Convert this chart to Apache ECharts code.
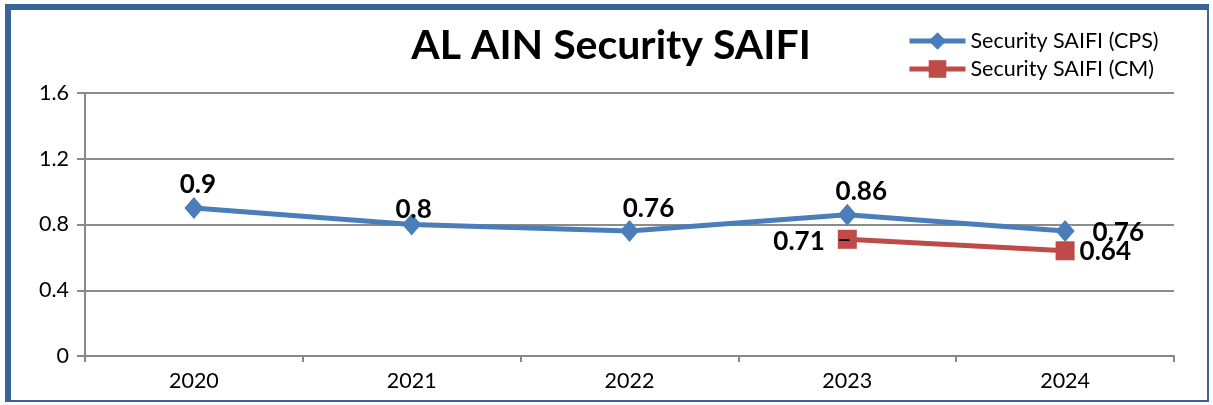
<!DOCTYPE html>
<html>
<head>
<meta charset="utf-8">
<script src="https://cdn.jsdelivr.net/npm/echarts@6.0.0/dist/echarts.min.js"></script>
<style>
  html, body { margin: 0; padding: 0; background: #fff; }
  #frame {
    position: absolute; left: 5px; top: 4px; width: 1204px; height: 398px;
    border-top: 6px solid #3a6498; border-left: 6px solid #3a6498;
    border-right: 2px solid #3a6498; border-bottom: 2px solid #3a6498;
    box-sizing: border-box;
  }
  #chart { position: absolute; left: 0; top: 0; width: 1213px; height: 405px; }
</style>
</head>
<body>
<div id="frame"></div>
<div id="chart"></div>
<script>
// data
const years = ['2020', '2021', '2022', '2023', '2024'];
const cpsValues = [0.9, 0.8, 0.76, 0.86, 0.76];
const cmValues = [null, null, null, 0.71, 0.64];
const yTicks = [0, 0.4, 0.8, 1.2, 1.6];

const FONT = 'Lato, "Open Sans", sans-serif';
const chart = echarts.init(document.getElementById('chart'));

// label placement per point, nudged like the excel chart
// (positions are relative to the symbol box, not the point)
const cpsLabels = [
  { position: 'top', distance: 5, offset: [4, 6] },
  { position: 'top', distance: 5, offset: [2, 14] },
  { position: 'top', distance: 5, offset: [19, 7] },
  { position: 'top', distance: 5, offset: [14, 6] },
  { position: 'right', distance: 18, offset: [0, 2] },
];
const cmLabels = [
  null, null, null,
  { position: 'left', distance: 0, offset: [14, 2], formatter: '{v|{c}}{d|–}' },
  { position: 'right', distance: 5, offset: [0, 1] },
];

const labelStyle = {
  show: true,
  fontFamily: FONT,
  fontWeight: 'bold',
  fontSize: 26,
  color: '#000',
  rich: {
    v: { fontFamily: FONT, fontWeight: 'bold', fontSize: 26, color: '#000' },
    d: { fontFamily: FONT, fontWeight: 'normal', fontSize: 26, color: '#000', padding: [0, 0, 4, 12] },
  },
};

const option = {
  animation: false,
  title: {
    text: 'AL AIN Security SAIFI',
    left: 606,
    top: 20,
    textAlign: 'center',
    textStyle: { fontFamily: FONT, fontWeight: 'bold', fontSize: 41, color: '#000' },
  },
  legend: {
    orient: 'vertical',
    left: 902,
    top: 25,
    itemWidth: 56,
    itemHeight: 22,
    itemGap: 6,
    lineStyle: { width: 5 },
    textStyle: { fontFamily: FONT, fontSize: 21.5, color: '#000' },
    data: ['Security SAIFI (CPS)', 'Security SAIFI (CM)'],
  },
  grid: { left: 85, right: 39, top: 93, bottom: 49 },
  xAxis: {
    type: 'category',
    data: years,
    boundaryGap: true,
    axisLine: { lineStyle: { color: '#888', width: 2 } },
    axisTick: { show: true, length: 6, lineStyle: { color: '#888', width: 2 } },
    axisLabel: { fontFamily: FONT, fontSize: 21.5, color: '#000', margin: 14 },
  },
  yAxis: {
    type: 'value',
    min: yTicks[0],
    max: yTicks[yTicks.length - 1],
    interval: 0.4,
    axisLine: { show: true, lineStyle: { color: '#888', width: 2 } },
    axisTick: { show: true, length: 8, lineStyle: { color: '#888', width: 2 } },
    splitLine: { lineStyle: { color: '#8c8c8c', width: 2 } },
    axisLabel: { fontFamily: FONT, fontSize: 21.5, color: '#000', margin: 16 },
  },
  series: [
    {
      name: 'Security SAIFI (CPS)',
      type: 'line',
      data: cpsValues.map((v, i) => ({
        value: v,
        label: Object.assign({}, labelStyle, cpsLabels[i]),
      })),
      symbol: 'diamond',
      symbolSize: [19, 22],
      lineStyle: { color: '#4a7ebb', width: 5 },
      itemStyle: { color: '#4a7ebb' },
      z: 3,
    },
    {
      name: 'Security SAIFI (CM)',
      type: 'line',
      data: cmValues.map((v, i) => v === null ? null : ({
        value: v,
        label: Object.assign({}, labelStyle, cmLabels[i]),
      })),
      symbol: 'rect',
      symbolSize: 19,
      lineStyle: { color: '#be4b48', width: 5 },
      itemStyle: { color: '#be4b48' },
      z: 2,
    },
  ],
};
chart.setOption(option);
</script>
</body>
</html>
